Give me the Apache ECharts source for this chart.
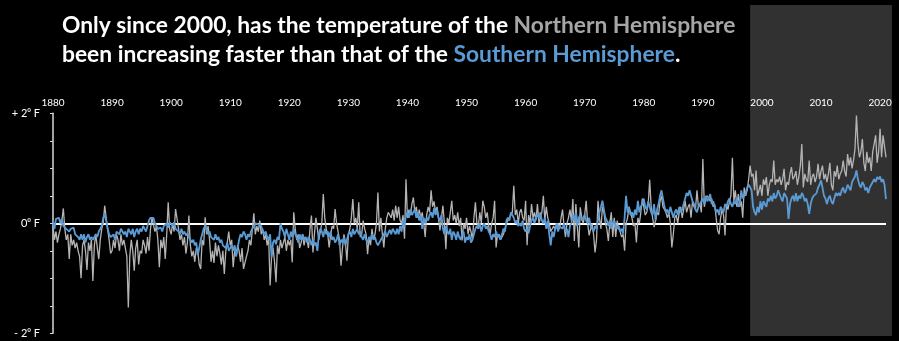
<!DOCTYPE html>
<html>
<head>
<meta charset="utf-8">
<script src="https://cdn.jsdelivr.net/npm/echarts@6/dist/echarts.min.js"></script>
<style>
  html, body { margin: 0; padding: 0; background: #000; }
  #chart { width: 899px; height: 341px; }
</style>
</head>
<body>
<div id="chart"></div>
<script>
// Hemispheric temperature anomalies, four readings per year starting in 1880.
const startYear = 1880;
const perYear = 4;
const decadeTicks = [1880, 1890, 1900, 1910, 1920, 1930, 1940, 1950, 1960, 1970, 1980, 1990, 2000, 2010, 2020];
const highlightStart = 1998;
const highlightEnd = 2022;

const northern = [
  -0.05, -0.3, -0.15, -0.35,   -0.2, -0.1, 0.05, 0.27,   -0.1, -0.3, -0.2, -0.65,   -0.2, -0.4, -0.3, -0.45,
  -0.35, -0.5, -0.6, -1.0,     -0.4, -0.3, -0.5, -0.85,  -0.35, -0.5, -0.3, -1.05,  -0.4, -0.2, -0.45, -0.65,
  -0.3, -0.1, 0.0, 0.32,       0.1, -0.1, -0.3, -0.55,   -0.5, -0.3, -0.45, -0.2,   -0.3, -0.5, -0.2, -0.4,
  -0.3, -0.45, -0.6, -1.53,    -0.6, -0.3, -0.5, -0.86,  -0.45, -0.3, -0.75, -0.5,  -0.55, -0.3, -0.4, -0.55,
  -0.25, -0.5, -0.1, 0.1,      0.1, -0.15, -0.05, -0.3,  -0.8, -0.3, -0.45, -0.25,  -0.65, -0.2, 0.38, -0.1,
  -0.2, 0.0, -0.15, 0.26,      0.29, -0.1, -0.3, -0.2,   -0.4, -0.25, -0.55, -0.35, 0.14, -0.4, -0.6, -0.5,
  -0.7, -0.45, -0.5, -0.75,    -0.83, -0.3, -0.4, 0.11,  -0.2, -0.05, -0.3, -0.7,   -0.5, -0.72, -0.35, -0.6,
  -0.4, -0.55, -0.75, -0.5,    -0.92, -0.5, -0.35, -0.15, -0.4, -0.3, -0.8, -0.5,   -0.6, -0.4, -0.5, -0.7,
  -0.45, -0.83, -0.85, -0.6,   -0.5, -0.3, -0.4, -0.1,   0.18, -0.2, -0.05, -0.15,  0.05, -0.2, -0.1, -0.3,
  -0.2, -0.4, -0.25, -1.13,    -0.6, -0.45, -0.7, -1.07, -0.4, -0.56, -0.3, -0.45,  -0.35, -0.25, -0.5, -0.3,
  -0.4, -0.3, -0.71, 0.2,      -0.1, -0.3, -0.2, -0.45,  -0.35, -0.2, -0.4, -0.25,  -0.3, -0.45, -0.1, 0.14,
  -0.53, -0.2, 0.1, -0.1,      -0.3, -0.15, 0.0, 0.53,   0.1, -0.1, -0.2, -0.44,    -0.2, -0.05, -0.1, 0.26,
  0.0, -0.15, -0.3, -0.77,     -0.45, -0.2, -0.35, -0.68, -0.2, -0.1, 0.1, 0.44,    0.0, 0.1, -0.1, 0.38,
  -0.25, -0.2, 0.05, -0.1,     -0.2, -0.56, -0.25, -0.4, -0.1, -0.3, -0.2, 0.0,     0.56, -0.15, 0.1, -0.2,
  -0.44, -0.1, 0.1, 0.2,       0.15, 0.1, 0.25, 0.05,    0.32, 0.1, 0.3, 0.05,      0.0, 0.15, -0.28, 0.8,
  0.1, 0.25, 0.15, 0.35,       0.47, 0.2, 0.3, 0.1,      0.25, 0.1, 0.2, 0.0,       -0.25, 0.15, 0.3, 0.2,
  0.6, 0.3, 0.4, 0.2,          0.3, 0.1, -0.13, 0.1,     0.32, 0.0, -0.47, 0.1,     0.0, 0.2, 0.41, 0.05,
  0.15, 0.0, 0.2, -0.05,       0.1, -0.31, 0.0, -0.1,    0.1, -0.2, -0.05, -0.15,   -0.3, 0.1, 0.38, 0.0,
  -0.05, 0.2, 0.0, 0.41,       0.3, 0.1, 0.2, -0.05,     -0.2, 0.0, 0.1, 0.41,      -0.44, -0.2, -0.25, -0.3,
  -0.28, -0.2, -0.1, 0.0,      0.05, 0.1, 0.15, 0.2,     0.68, 0.15, 0.25, 0.0,     0.2, 0.26, 0.1, 0.05,
  0.41, -0.4, 0.15, 0.0,       0.35, 0.1, 0.2, 0.05,     0.35, 0.0, 0.1, 0.2,       0.5, 0.05, 0.3, 0.1,
  0.0, -0.15, -0.1, -0.05,     -0.13, -0.05, 0.0, -0.1,  0.1, 0.25, -0.05, -0.25,   0.0, 0.1, 0.25, 0.05,
  0.44, -0.32, 0.35, -0.05,    -0.44, 0.29, 0.1, 0.0,    0.15, 0.41, 0.0, -0.22,    -0.1, 0.0, -0.2, -0.53,
  -0.3, 0.41, 0.1, -0.1,       0.3, 0.2, 0.0, -0.1,      -0.32, 0.0, 0.2, -0.25,    0.1, -0.25, 0.05, -0.1,
  -0.15, -0.25, -0.2, -0.5,    0.0, 0.1, 0.3, 0.2,       0.1, -0.05, 0.0, -0.35,    0.1, 0.0, 0.2, 0.45,
  0.3, 0.15, 0.2, 0.35,        0.79, 0.3, 0.1, -0.07,    -0.1, 0.2, 0.15, 0.4,      0.5, 0.3, 0.25, 0.2,
  0.1, 0.2, 0.0, -0.44,        -0.2, 0.1, 0.15, 0.0,     0.2, 0.3, 0.1, 0.25,       0.41, 0.2, 0.3, 0.35,
  0.1, 0.4, 0.3, 0.25,         0.6, 0.3, 0.35, 0.2,      1.17, 0.3, 0.45, 0.5,      0.53, 0.4, 0.45, 0.3,
  0.35, 0.1, -0.13, -0.2,      0.1, 0.25, 0.15, -0.22,   0.35, 0.25, 0.4, 0.5,      1.19, 0.4, 0.6, 0.3,
  0.53, 0.3, 0.4, 0.1,         0.65, 0.5, 0.6, 0.8,      1.05, 0.85, 0.9, 0.6,      0.96, 0.5, 0.6, 0.7,
  0.5, 0.8, 0.7, 0.84,         0.5, 0.7, 0.8, 0.75,      1.14, 0.7, 0.8, 0.75,      0.85, 0.7, 0.8, 0.99,
  0.6, 0.75, 0.7, 0.9,         1.02, 0.8, 0.85, 0.95,    0.7, 0.85, 1.05, 1.44,     0.65, 0.9, 0.8, 0.75,
  1.14, 0.7, 0.85, 0.9,        0.75, 0.85, 1.08, 0.8,    0.95, 1.05, 0.8, 0.9,      0.75, 0.9, 1.1, 0.7,
  0.6, 0.95, 0.85, 1.05,       0.8, 0.9, 0.95, 1.14,     0.95, 0.85, 1.26, 1.05,    1.2, 1.0, 1.15, 1.35,
  1.96, 1.44, 1.2, 1.3,        1.53, 1.1, 0.95, 1.3,     1.1, 1.2, 0.95, 1.3,       1.32, 1.6, 1.1, 1.3,
  1.72, 1.2, 1.6, 1.4,         1.2
];

const southern = [
  0.05, -0.1, 0.08, 0.05,      0.1, 0.0, 0.08, -0.05,    -0.05, -0.1, -0.08, -0.15, -0.1, -0.12, -0.08, -0.2,
  -0.2, -0.25, -0.3, -0.2,     -0.3, -0.2, -0.35, -0.25, -0.2, -0.3, -0.25, -0.3,   -0.3, -0.2, -0.25, -0.15,
  -0.1, -0.05, 0.1, 0.17,      0.05, -0.1, -0.2, -0.25,  -0.25, -0.2, -0.3, -0.15,  -0.15, -0.2, -0.1, -0.15,
  -0.2, -0.15, -0.25, -0.1,    -0.15, -0.2, -0.1, -0.25, -0.15, -0.1, -0.2, -0.1,   -0.15, -0.05, -0.1, -0.15,
  -0.05, 0.05, 0.1, 0.08,      0.1, 0.0, -0.05, -0.1,    -0.1, -0.08, -0.15, -0.05, -0.05, 0.0, -0.08, 0.02,
  0.0, -0.05, 0.02, -0.1,      -0.12, -0.15, -0.2, -0.1, -0.2, -0.15, -0.22, -0.18, -0.25, -0.3, -0.35, -0.3,
  -0.4, -0.35, -0.58, -0.45,   -0.3, -0.2, -0.1, -0.05,  -0.1, -0.2, -0.15, -0.25,  -0.25, -0.3, -0.2, -0.3,
  -0.25, -0.35, -0.3, -0.4,    -0.4, -0.45, -0.35, -0.5, -0.45, -0.4, -0.5, -0.4,   -0.6, -0.45, -0.3, -0.2,
  -0.25, -0.15, -0.2, -0.3,    -0.2, -0.25, -0.15, -0.1, -0.05, 0.0, 0.02, -0.02,   0.0, -0.05, -0.15, -0.2,
  -0.15, -0.25, -0.3, -0.2,    -0.62, -0.35, -0.3, -0.38, -0.25, -0.3, 0.0, -0.1,   -0.15, -0.25, -0.1, -0.2,
  -0.3, -0.15, -0.25, -0.1,    -0.2, -0.25, -0.35, -0.2, -0.3, -0.2, -0.3, -0.25,   -0.35, -0.25, -0.3, -0.4,
  -0.3, -0.4, -0.35, -0.5,     -0.2, -0.1, -0.15, -0.25, -0.1, -0.2, -0.15, -0.25,  -0.15, -0.3, -0.25, -0.35,
  -0.3, -0.2, -0.4, -0.3,      -0.35, -0.25, -0.4, -0.3, -0.2, -0.15, -0.25, -0.1,  -0.2, -0.15, -0.1, -0.2,
  -0.15, -0.25, -0.3, -0.2,    -0.3, -0.35, -0.25, -0.3, -0.2, -0.3, -0.25, -0.35,  -0.4, -0.35, -0.3, -0.25,
  -0.2, -0.15, -0.25, -0.18,   -0.12, -0.2, -0.1, -0.15, -0.2, -0.1, -0.2, -0.05,   -0.15, 0.05, -0.05, 0.15,
  0.2, 0.1, 0.25, 0.15,        0.2, 0.26, 0.1, 0.2,      0.05, 0.15, -0.1, 0.1,     0.0, 0.1, 0.05, 0.15,
  0.2, 0.1, 0.28, 0.15,        0.25, 0.1, 0.05, 0.15,    -0.1, -0.2, -0.05, -0.15,  -0.2, -0.1, -0.3, -0.15,
  -0.2, -0.3, -0.15, -0.25,    -0.3, -0.2, -0.15, -0.35, -0.25, -0.3, -0.2, -0.35,  -0.3, -0.2, -0.1, -0.05,
  -0.1, 0.0, -0.15, -0.05,     0.0, -0.1, -0.05, -0.15,  -0.2, -0.3, -0.2, -0.25,   -0.15, -0.25, -0.2, -0.3,
  -0.2, -0.1, -0.15, 0.05,     0.1, 0.05, 0.2, 0.15,     0.1, 0.0, 0.05, -0.05,     0.0, -0.05, 0.05, -0.1,
  -0.15, -0.1, -0.18, -0.05,   0.05, 0.1, 0.0, 0.1,      0.15, 0.1, 0.2, 0.05,      0.0, 0.1, -0.1, 0.05,
  -0.2, -0.4, -0.15, -0.25,    -0.1, 0.0, -0.15, -0.05,  -0.05, -0.1, 0.0, -0.15,   -0.1, -0.25, -0.05, 0.0,
  0.15, 0.05, 0.2, -0.05,      0.1, 0.15, 0.05, 0.1,     0.15, 0.05, 0.0, 0.1,      -0.05, -0.1, -0.15, -0.05,
  -0.1, 0.05, 0.2, 0.3,        0.41, 0.25, 0.1, 0.05,    -0.05, 0.05, -0.1, 0.0,    0.05, -0.05, -0.1, -0.05,
  -0.15, -0.1, -0.19, 0.1,     0.5, 0.2, 0.3, 0.15,      0.2, 0.1, 0.25, 0.15,      0.41, 0.2, 0.3, 0.35,
  0.45, 0.3, 0.25, 0.4,        0.3, 0.2, 0.15, 0.35,     0.05, 0.25, 0.35, 0.5,     0.6, 0.45, 0.3, 0.2,
  0.25, 0.15, 0.3, 0.2,        0.1, 0.2, 0.25, 0.15,     0.3, 0.2, 0.25, 0.35,      0.45, 0.55, 0.5, 0.6,
  0.5, 0.4, 0.35, 0.25,        0.2, 0.3, 0.35, 0.4,      0.45, 0.35, 0.5, 0.4,      0.45, 0.53, 0.35, 0.4,
  0.3, 0.2, 0.25, 0.15,        0.3, 0.25, 0.2, 0.35,     0.3, 0.4, 0.45, 0.35,      0.3, 0.4, 0.35, 0.45,
  0.3, 0.35, 0.6, 0.45,        0.5, 0.55, 0.65, 0.7,     0.72, 0.6, 0.3, 0.2,       0.15, 0.3, 0.2, 0.4,
  0.25, 0.4, 0.35, 0.3,        0.45, 0.4, 0.5, 0.4,      0.55, 0.45, 0.5, 0.6,      0.6, 0.45, 0.4, 0.55,
  0.5, 0.45, 0.08, 0.35,       0.45, 0.5, 0.4, 0.55,     0.4, 0.5, 0.45, 0.55,      0.5, 0.4, 0.45, 0.35,
  0.17, 0.35, 0.45, 0.5,       0.5, 0.55, 0.65, 0.7,     0.78, 0.65, 0.5, 0.45,     0.35, 0.45, 0.5, 0.4,
  0.35, 0.45, 0.55, 0.5,       0.55, 0.5, 0.6, 0.65,     0.55, 0.6, 0.7, 0.65,      0.6, 0.75, 0.8, 0.85,
  0.96, 0.8, 0.7, 0.65,        0.75, 0.7, 0.6, 0.65,     0.55, 0.65, 0.7, 0.75,     0.8, 0.75, 0.84, 0.8,
  0.85, 0.75, 0.8, 0.7,        0.44
];

const toPairs = (values) => values.map((v, i) => [startYear + i / perYear, v]);

const FONT = 'Lato, "Open Sans", sans-serif';
const TITLE_SIZE = 22.8;
const chart = echarts.init(document.getElementById('chart'), null, { renderer: 'canvas' });

const zeroLineColors = [];
for (let v = -2; v <= 2.0001; v += 0.5) {
  zeroLineColors.push(Math.abs(v) < 1e-9 ? '#ffffff' : 'rgba(0,0,0,0)');
}

const titleRun = (color) => ({ color, fontFamily: FONT, fontSize: TITLE_SIZE, fontWeight: 'bold', lineHeight: 29 });

chart.setOption({
  backgroundColor: '#000000',
  animation: false,
  title: {
    left: 57,
    top: 6,
    text: '{w|Only since 2000, has the temperature of the }{n|Northern Hemisphere}\n' +
          '{w|been increasing faster than that of the }{s|Southern Hemisphere}{w|.}',
    textStyle: {
      fontFamily: FONT,
      fontSize: TITLE_SIZE,
      fontWeight: 'bold',
      lineHeight: 29,
      rich: {
        w: titleRun('#ffffff'),
        n: titleRun('#a6a6a6'),
        s: titleRun('#5b9bd5')
      }
    }
  },
  grid: { left: 53, right: 13, top: 113.3, bottom: 7.7, containLabel: false },
  xAxis: {
    type: 'value',
    position: 'top',
    min: 1880,
    max: 2021,
    interval: 10,
    axisLine: { show: false },
    axisTick: { show: false },
    splitLine: { show: false },
    axisLabel: {
      color: '#ffffff',
      fontFamily: FONT,
      fontSize: 10,
      margin: 6,
      formatter: (v) => (decadeTicks.indexOf(Math.round(v)) >= 0 && Math.abs(v - Math.round(v)) < 1e-6 ? String(Math.round(v)) : '')
    }
  },
  yAxis: {
    type: 'value',
    min: -2,
    max: 2,
    interval: 0.5,
    axisLine: { show: true, onZero: false, lineStyle: { color: '#d9d9d9', width: 1.5 } },
    axisTick: { show: true, length: 3, lineStyle: { color: '#d9d9d9', width: 1 } },
    splitLine: { show: true, lineStyle: { color: zeroLineColors, width: 2 } },
    axisLabel: {
      color: '#ffffff',
      fontFamily: FONT,
      fontSize: 11,
      margin: 13,
      formatter: (v) => {
        if (Math.abs(v - 2) < 1e-9) return '+ 2\u2070 F';
        if (Math.abs(v) < 1e-9) return '0\u2070 F';
        if (Math.abs(v + 2) < 1e-9) return '- 2\u2070 F';
        return '';
      }
    }
  },
  series: [
    {
      name: 'Northern Hemisphere',
      type: 'line',
      data: toPairs(northern),
      showSymbol: false,
      symbol: 'none',
      lineStyle: { color: '#b4b4b4', width: 1.3 },
      z: 3
    },
    {
      name: 'Southern Hemisphere',
      type: 'line',
      data: toPairs(southern),
      showSymbol: false,
      symbol: 'none',
      lineStyle: { color: '#5b9bd5', width: 1.8 },
      z: 4
    }
  ]
});

// Shaded panel behind the recent years, spanning the full chart height.
const x0 = chart.convertToPixel({ xAxisIndex: 0 }, highlightStart);
const x1 = chart.convertToPixel({ xAxisIndex: 0 }, highlightEnd);
chart.setOption({
  graphic: [{
    type: 'rect',
    z: -10,
    silent: true,
    shape: { x: x0, y: 5, width: x1 - x0, height: 331 },
    style: { fill: '#313131' }
  }]
});
</script>
</body>
</html>
